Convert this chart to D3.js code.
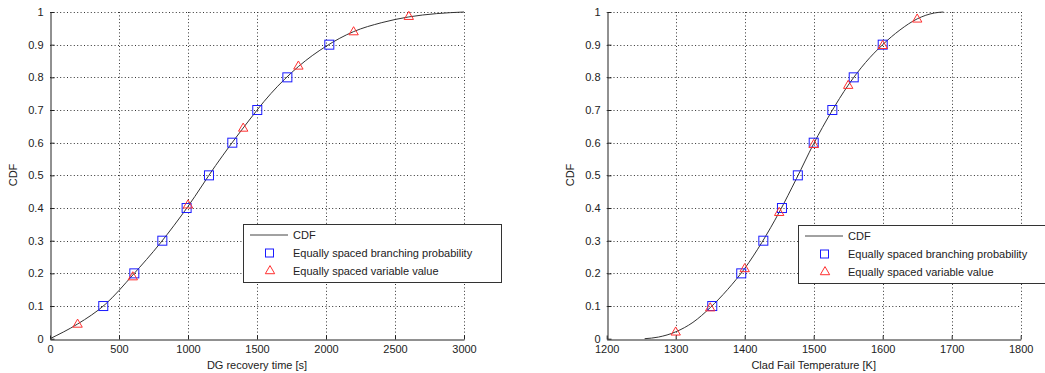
<!DOCTYPE html>
<html><head><meta charset="utf-8">
<script src="https://cdn.jsdelivr.net/npm/d3@7"></script>
<style>
body{margin:0;background:#fff;}
svg{display:block;font-family:"Liberation Sans",Arial,sans-serif;}
</style></head>
<body><svg id="c" width="1045" height="373"></svg>
<script>
// ---- Left chart data (DG recovery time) ----
const dgCurveX = [0, 200, 400, 600, 800, 1000, 1200, 1400, 1600, 1800, 2000, 2200, 2400, 2600, 2800, 3000];
const dgCurveY = [0, 0.045, 0.105, 0.195, 0.293, 0.405, 0.53, 0.645, 0.75, 0.833, 0.895, 0.94, 0.967, 0.985, 0.995, 1.0];
const dgProbX = [386, 611, 814, 990, 1152, 1321, 1502, 1720, 2024];
const dgProbY = [0.1, 0.2, 0.3, 0.4, 0.5, 0.6, 0.7, 0.8, 0.9];
const dgVarX = [200, 600, 1000, 1400, 1800, 2200, 2600];
const dgVarY = [0.045, 0.19, 0.41, 0.645, 0.835, 0.94, 0.987];
const dgTicksX = [0, 500, 1000, 1500, 2000, 2500, 3000];

// ---- Right chart data (Clad fail temperature) ----
const cfCurveX = [1255, 1275, 1300, 1325, 1350, 1375, 1400, 1425, 1450, 1475, 1500, 1525, 1550, 1575, 1600, 1625, 1650, 1675, 1688];
const cfCurveY = [0, 0.005, 0.021, 0.05, 0.095, 0.15, 0.215, 0.295, 0.387, 0.49, 0.597, 0.692, 0.776, 0.845, 0.9, 0.945, 0.979, 0.997, 1.0];
const cfProbX = [1353, 1395, 1427, 1454, 1477, 1500, 1527, 1558, 1600];
const cfProbY = [0.1, 0.2, 0.3, 0.4, 0.5, 0.6, 0.7, 0.8, 0.9];
const cfVarX = [1300, 1350, 1400, 1450, 1500, 1550, 1600, 1650];
const cfVarY = [0.021, 0.095, 0.215, 0.387, 0.595, 0.776, 0.898, 0.979];
const cfTicksX = [1200, 1300, 1400, 1500, 1600, 1700, 1800];

const yTicks = [0, 0.1, 0.2, 0.3, 0.4, 0.5, 0.6, 0.7, 0.8, 0.9, 1];
const legendLabels = ["CDF", "Equally spaced branching probability", "Equally spaced variable value"];

const svg = d3.select("#c");

function panel(opt){
  const g = svg.append("g");
  const x = d3.scaleLinear().domain(opt.xDomain).range([opt.left, opt.left + 414]);
  const y = d3.scaleLinear().domain([0, 1]).range([338.7, 12]);
  const grid = g.append("g").attr("stroke", "#333").attr("stroke-width", 1).attr("stroke-dasharray", "1,2.4");
  grid.selectAll("line.vx").data(opt.xTicks.slice(1)).join("line")
    .attr("x1", d => Math.round(x(d)) + 0.5).attr("x2", d => Math.round(x(d)) + 0.5)
    .attr("y1", y(1)).attr("y2", y(0));
  grid.selectAll("line.hy").data(yTicks.slice(1)).join("line")
    .attr("y1", d => Math.round(y(d)) + 0.5).attr("y2", d => Math.round(y(d)) + 0.5)
    .attr("x1", x.range()[0]).attr("x2", x.range()[1]);

  const ax = g.append("g").attr("transform", `translate(0,${Math.round(y(0)) + 0.5})`)
    .call(d3.axisBottom(x).tickValues(opt.xTicks).tickFormat(d3.format("d")).tickSizeInner(-4).tickSizeOuter(0).tickPadding(6));
  const ay = g.append("g").attr("transform", `translate(${Math.round(x.range()[0]) + 0.5},0)`)
    .call(d3.axisLeft(y).tickValues(yTicks).tickFormat(d => d3.format("")(+d.toFixed(1))).tickSizeInner(-4).tickSizeOuter(0).tickPadding(7));
  [ax, ay].forEach(a => {
    a.selectAll("text").attr("font-size", 11).attr("fill", "#222").attr("font-family", "Liberation Sans, Arial, sans-serif");
    a.selectAll("path,line").attr("stroke", "#222");
  });

  const line = d3.line().x(d => x(d[0])).y(d => y(d[1])).curve(d3.curveMonotoneX);
  g.append("path").datum(d3.zip(opt.cx, opt.cy)).attr("d", line)
    .attr("fill", "none").attr("stroke", "#333").attr("stroke-width", 1);

  g.selectAll("rect.sq").data(d3.zip(opt.px, opt.py)).join("rect")
    .attr("x", d => x(d[0]) - 4.5).attr("y", d => y(d[1]) - 4.5)
    .attr("width", 9).attr("height", 9).attr("fill", "none").attr("stroke", "#1a1aff").attr("stroke-width", 1);
  const tri = d3.symbol().type(d3.symbolTriangle).size(38);
  g.selectAll("path.tr").data(d3.zip(opt.vx, opt.vy)).join("path")
    .attr("d", tri).attr("transform", d => `translate(${x(d[0])},${y(d[1]) + 0.5})`)
    .attr("fill", "none").attr("stroke", "#ff3030").attr("stroke-width", 1);

  g.append("text").attr("x", (x.range()[0] + x.range()[1]) / 2).attr("y", 369)
    .attr("text-anchor", "middle").attr("font-size", 11).attr("fill", "#222").text(opt.xLabel);
  g.append("text").attr("transform", `translate(${opt.left - 33},175) rotate(-90)`)
    .attr("text-anchor", "middle").attr("font-size", 11).attr("fill", "#222").text("CDF");

  // legend
  const L = g.append("g").attr("transform", `translate(${opt.legX},${opt.legY})`);
  L.append("rect").attr("x", 0.5).attr("y", 0.5).attr("width", 258).attr("height", 58)
    .attr("fill", "#fff").attr("stroke", "#333").attr("stroke-width", 1);
  const rows = [11, 29, 46.5];
  L.append("line").attr("x1", 7).attr("x2", 45).attr("y1", rows[0]).attr("y2", rows[0]).attr("stroke", "#444").attr("stroke-width", 1);
  L.append("rect").attr("x", 22.5).attr("y", rows[1] - 4).attr("width", 8).attr("height", 8).attr("fill", "none").attr("stroke", "#1a1aff");
  L.append("path").attr("d", tri).attr("transform", `translate(27,${rows[2] + 0.5})`).attr("fill", "none").attr("stroke", "#ff3030");
  L.selectAll("text").data(legendLabels).join("text")
    .attr("x", 50).attr("y", (d, i) => rows[i] + 4).attr("font-size", 11).attr("fill", "#222").text(d => d);
}

panel({left: 50, xDomain: [0, 3000], xTicks: dgTicksX, cx: dgCurveX, cy: dgCurveY,
  px: dgProbX, py: dgProbY, vx: dgVarX, vy: dgVarY, xLabel: "DG recovery time [s]", legX: 243, legY: 224});
panel({left: 606.7, xDomain: [1200, 1800], xTicks: cfTicksX, cx: cfCurveX, cy: cfCurveY,
  px: cfProbX, py: cfProbY, vx: cfVarX, vy: cfVarY, xLabel: "Clad Fail Temperature [K]", legX: 798, legY: 225});
</script>
</body></html>
